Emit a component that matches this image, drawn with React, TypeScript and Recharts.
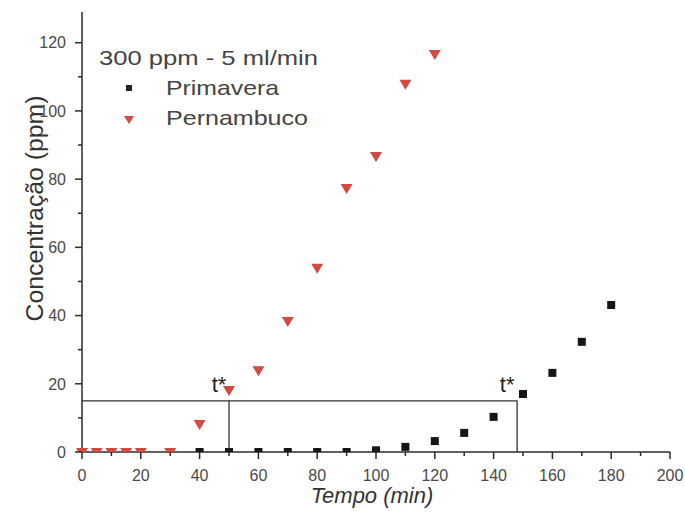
import { ScatterChart, Scatter, XAxis, YAxis, ReferenceLine, Legend } from 'recharts'

// tempo (min)
const tempoPrimavera = [40, 50, 60, 70, 80, 90, 100, 110, 120, 130, 140, 150, 160, 170, 180]
const concPrimavera = [0, 0, 0, 0, 0, 0, 0.5, 1.5, 3.2, 5.6, 10.3, 17, 23.2, 32.3, 43.1]

const tempoPernambuco = [0, 5, 10, 15, 20, 30, 40, 50, 60, 70, 80, 90, 100, 110, 120]
const concPernambuco = [0, 0, 0, 0, 0, 0, 8.2, 18.2, 24, 38.4, 54, 77.4, 86.8, 108, 116.7]

const xTicks = [0, 10, 20, 30, 40, 50, 60, 70, 80, 90, 100, 110, 120, 130, 140, 150, 160, 170, 180, 190, 200]
const yTicks = [0, 10, 20, 30, 40, 50, 60, 70, 80, 90, 100, 110, 120]

// t* (breakthrough) marks
const tStarLevel = 15
const tStarPernambuco = 50
const tStarPrimavera = 148

const primavera = tempoPrimavera.map((t, i) => ({ t, c: concPrimavera[i] }))
const pernambuco = tempoPernambuco.map((t, i) => ({ t, c: concPernambuco[i] }))

const FONT = '"Liberation Sans", Arial, sans-serif'
const AXIS = '#2b2b2b'
const RED = '#d24a40'

const XTick = (props: any) => {
  const { x, y, payload } = props
  const major = payload.value % 20 === 0
  return (
    <g>
      <line x1={x} x2={x} y1={y} y2={y + (major ? 7 : 4)} stroke={AXIS} strokeWidth={1.5} />
      {major && (
        <text x={x} y={y + 29} textAnchor="middle" fontSize={16} fill="#4a4a4a" fontFamily={FONT}>
          {payload.value}
        </text>
      )}
    </g>
  )
}

const YTick = (props: any) => {
  const { x, y, payload } = props
  const major = payload.value % 20 === 0
  return (
    <g>
      <line x1={x} x2={x - (major ? 7 : 4)} y1={y} y2={y} stroke={AXIS} strokeWidth={1.5} />
      {major && (
        <text x={x - 16} y={y} dy="0.36em" textAnchor="end" fontSize={16} fill="#4a4a4a" fontFamily={FONT}>
          {payload.value}
        </text>
      )}
    </g>
  )
}

const Square = (props: any) => {
  const { cx, cy } = props
  return <rect x={cx - 4} y={cy - 4} width={8} height={8} fill="#161616" />
}

const TriangleDown = (props: any) => {
  const { cx, cy } = props
  return <path d={`M${cx - 6},${cy - 4} L${cx + 6},${cy - 4} L${cx},${cy + 6} Z`} fill={RED} />
}

const TStar = (props: any) => {
  const vb = props.viewBox || {}
  return (
    <text x={vb.x - 10} y={vb.y - 9} textAnchor="middle" fontSize={22} fill="#222" fontFamily={FONT}>
      t*
    </text>
  )
}

const LegendBox = () => (
  <svg width={250} height={110} style={{ display: 'block' }}>
    <text x={4} y={27} fontSize={21} fill="#444" fontFamily={FONT} textLength={219} lengthAdjust="spacingAndGlyphs">
      300 ppm - 5 ml/min
    </text>
    <rect x={31} y={47} width={6} height={6} fill="#222" />
    <text x={71} y={57} fontSize={21} fill="#444" fontFamily={FONT} textLength={113} lengthAdjust="spacingAndGlyphs">
      Primavera
    </text>
    <path d="M29,78 L39,78 L34,86 Z" fill={RED} />
    <text x={71} y={87} fontSize={21} fill="#444" fontFamily={FONT} textLength={142} lengthAdjust="spacingAndGlyphs">
      Pernambuco
    </text>
  </svg>
)

const YTitle = (props: any) => {
  const vb = props.viewBox || { x: 0, y: 12, width: 82, height: 440 }
  const cy = vb.y + vb.height / 2 - 23.5
  return (
    <text
      x={43}
      y={cy}
      transform={`rotate(-90 43 ${cy})`}
      textAnchor="middle"
      fontSize={23}
      fill="#333"
      fontFamily={FONT}
      textLength={226}
      lengthAdjust="spacingAndGlyphs"
    >
      Concentração (ppm)
    </text>
  )
}

const XTitle = (props: any) => {
  const vb = props.viewBox || { x: 82, y: 452, width: 588, height: 63 }
  const cx = vb.x + vb.width / 2 - 4
  return (
    <text x={cx} y={503} textAnchor="middle" fontSize={22} fontStyle="italic" fill="#333" fontFamily={FONT}>
      Tempo (min)
    </text>
  )
}

export default function App() {
  return (
    <div style={{ position: 'absolute', left: 0, top: 0, width: 685, height: 515, background: '#fff' }}>
      <ScatterChart width={685} height={515} margin={{ top: 12, right: 15, bottom: 0, left: 0 }}>
        <XAxis
          type="number"
          dataKey="t"
          domain={[0, 200]}
          ticks={xTicks}
          interval={0}
          height={63}
          tickSize={0}
          tickMargin={0}
          tick={<XTick />}
          axisLine={{ stroke: AXIS, strokeWidth: 1.5 }}
          label={<XTitle />}
        />
        <YAxis
          type="number"
          dataKey="c"
          domain={[0, 129]}
          allowDataOverflow
          ticks={yTicks}
          interval={0}
          width={82}
          tickSize={0}
          tickMargin={0}
          tick={<YTick />}
          axisLine={{ stroke: AXIS, strokeWidth: 1.5 }}
          label={<YTitle />}
        />
        <Legend
          layout="horizontal"
          verticalAlign="middle"
          align="center"
          wrapperStyle={{ position: 'absolute', left: 95, top: 38, width: 250, height: 110 }}
          content={<LegendBox />}
        />
        <ReferenceLine
          segment={[{ x: 0, y: tStarLevel }, { x: tStarPrimavera, y: tStarLevel }]}
          stroke="#333"
          strokeWidth={1.3}
          ifOverflow="visible"
        />
        <ReferenceLine
          segment={[{ x: tStarPernambuco, y: 0 }, { x: tStarPernambuco, y: tStarLevel }]}
          stroke="#333"
          strokeWidth={1.3}
          ifOverflow="visible"
          label={<TStar />}
        />
        <ReferenceLine
          segment={[{ x: tStarPrimavera, y: 0 }, { x: tStarPrimavera, y: tStarLevel }]}
          stroke="#333"
          strokeWidth={1.3}
          ifOverflow="visible"
          label={<TStar />}
        />
        <Scatter name="Primavera" data={primavera} shape={<Square />} fill="#161616" isAnimationActive={false} />
        <Scatter name="Pernambuco" data={pernambuco} shape={<TriangleDown />} fill={RED} isAnimationActive={false} />
      </ScatterChart>
    </div>
  )
}
